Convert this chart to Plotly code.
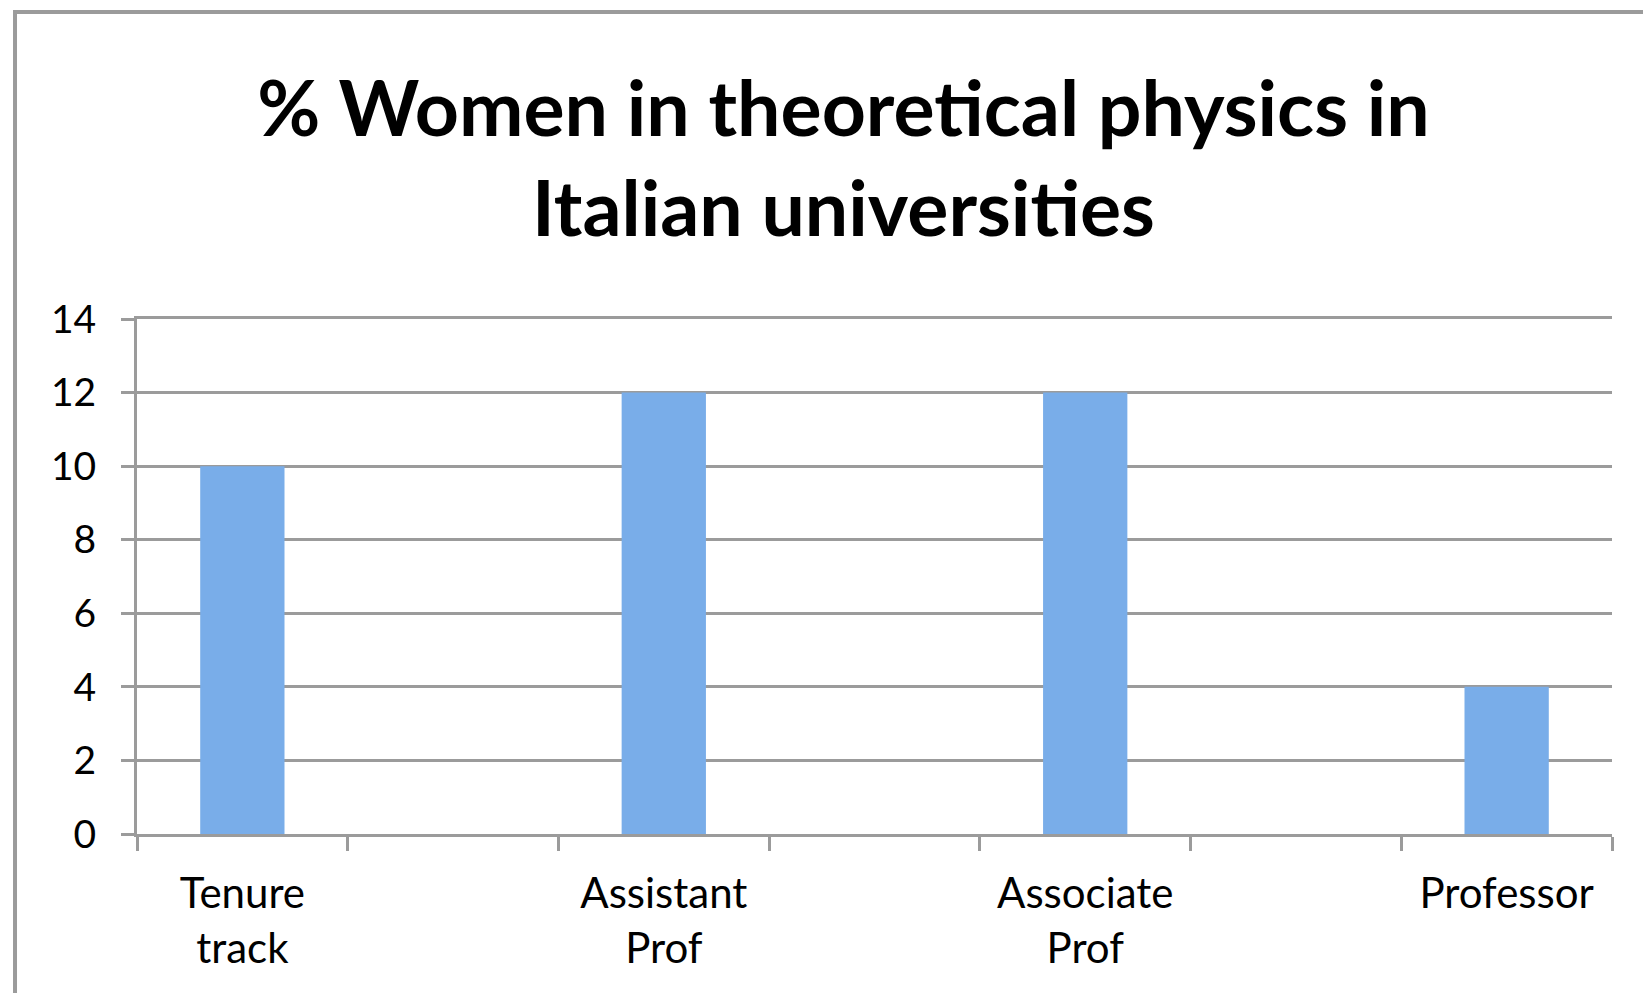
import plotly.graph_objects as go

# Excel-style layout: empty columns sit between the four positions
categories = ["Tenure<br>track", " ", "Assistant<br>Prof", "  ", "Associate<br>Prof", "   ", "Professor"]
pct_women = [10, None, 12, None, 12, None, 4]
y_ticks = [0, 2, 4, 6, 8, 10, 12, 14]

title_text = "<b>% Women in theoretical physics in<br>Italian universities</b>"

GRID = "#9b9b9b"
FONT = "Lato"

fig = go.Figure(
    go.Bar(
        x=categories,
        y=pct_women,
        marker=dict(color="#79ade9", line=dict(width=0)),
        hoverinfo="x+y",
    )
)

fig.update_layout(
    width=1635,
    height=985,
    margin=dict(l=129, r=31, t=311, b=159),
    paper_bgcolor="white",
    plot_bgcolor="white",
    bargap=0.6,
    showlegend=False,
    font=dict(family=FONT, color="black"),
    title=dict(
        text=title_text,
        x=0.511,
        xanchor="center",
        xref="container",
        y=0.870,
        yanchor="middle",
        yref="container",
        font=dict(family=FONT, size=77, color="black"),
    ),
    shapes=[
        dict(
            type="rect", xref="paper", yref="paper",
            x0=-0.0827, x1=1.2, y0=-0.5, y1=1.596,
            line=dict(color=GRID, width=4), fillcolor="rgba(0,0,0,0)", layer="below",
        )
    ],
)

fig.update_xaxes(
    type="category",
    tickson="boundaries",
    ticks="outside",
    ticklen=14,
    tickwidth=3,
    tickcolor=GRID,
    showline=True,
    mirror=True,
    linecolor=GRID,
    linewidth=3,
    showgrid=False,
    tickfont=dict(family=FONT, size=42, color="black"),
    ticklabelstandoff=21,
)
fig.update_yaxes(
    range=[0, 14],
    tickvals=y_ticks,
    ticks="outside",
    ticklen=13,
    tickwidth=3,
    tickcolor=GRID,
    showline=True,
    linecolor=GRID,
    linewidth=3,
    showgrid=True,
    gridcolor=GRID,
    gridwidth=3,
    zeroline=False,
    tickfont=dict(family=FONT, size=39, color="black"),
    ticklabelstandoff=17,
)

fig.write_html("out.html")
